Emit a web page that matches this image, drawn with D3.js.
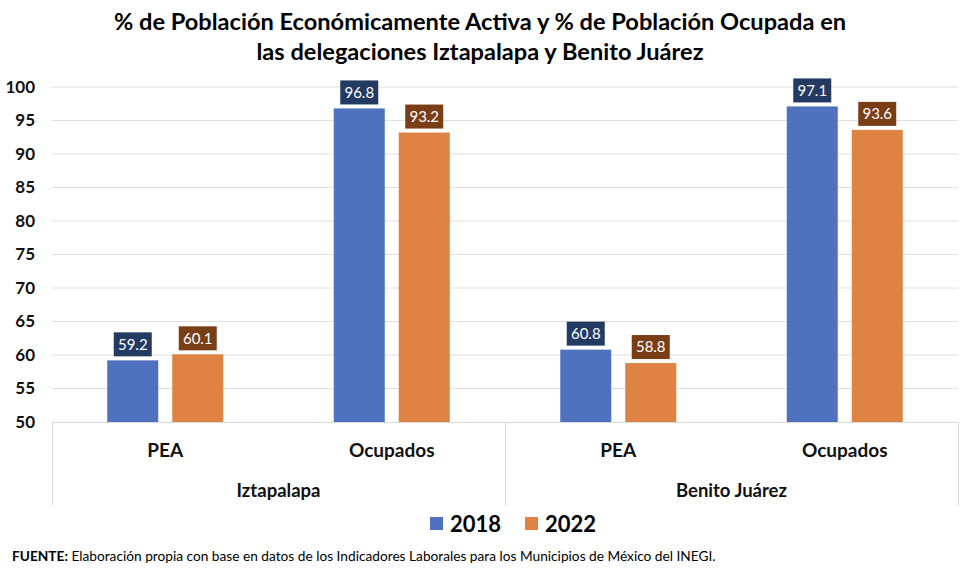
<!DOCTYPE html>
<html><head><meta charset="utf-8">
<script src="https://cdn.jsdelivr.net/npm/d3@7"></script>
<style>body{margin:0;background:#fff}svg{display:block}text{font-family:Lato,"Open Sans",sans-serif}</style>
</head><body>
<svg id="c" width="960" height="576"></svg>
<script>
const groups = ["Iztapalapa", "Benito Juárez"];
const subcats = ["PEA", "Ocupados"];
const seriesNames = ["2018", "2022"];
const values2018 = [59.2, 96.8, 60.8, 97.1];
const values2022 = [60.1, 93.2, 58.8, 93.6];
const yTicks = [50, 55, 60, 65, 70, 75, 80, 85, 90, 95, 100];
const titleLines = ["% de Población Económicamente Activa y % de Población Ocupada en", "las delegaciones Iztapalapa y Benito Juárez"];

const barColors = ["#4F71BE", "#DF8344"];
const boxColors = ["#233A63", "#7A3E17"];
const svg = d3.select("#c");
const L = 52, R = 958, T = 87, B = 422;

const cats = [];
groups.forEach(g => subcats.forEach(s => cats.push(g + "|" + s)));
const x = d3.scaleBand().domain(cats).range([L, R]).paddingInner(0).paddingOuter(0);
const x1 = d3.scaleBand().domain(seriesNames).range([0, x.bandwidth()]).paddingInner(0.215).paddingOuter(0.85);
const y = d3.scaleLinear().domain([50, 100]).range([B, T]);

// gridlines
svg.append("g").selectAll("line").data(yTicks.slice(1)).join("line")
  .attr("x1", L).attr("x2", R).attr("y1", d => y(d)).attr("y2", d => y(d))
  .attr("stroke", "#e0e0e0").attr("stroke-width", 1);

// y axis labels
const yAxis = d3.axisLeft(y).tickValues(yTicks).tickSize(0).tickPadding(0);
const ya = svg.append("g").attr("transform", `translate(${35},0)`).call(yAxis);
ya.select(".domain").remove();
ya.selectAll("text").attr("font-size", 17).attr("font-weight", "bold").attr("fill", "#111").attr("font-family", "Lato, sans-serif");

// category axis lines
const ax = svg.append("g").attr("stroke", "#d9d9d9").attr("stroke-width", 1);
ax.append("line").attr("x1", L).attr("x2", R).attr("y1", B + 0.5).attr("y2", B + 0.5);
const gBounds = [L, x(cats[2]), R];
gBounds.forEach(v => ax.append("line").attr("x1", v + 0.5).attr("x2", v + 0.5).attr("y1", B).attr("y2", 505));

// bars
const data = [];
cats.forEach((c, i) => {
  data.push({c, s: "2018", v: values2018[i], k: 0});
  data.push({c, s: "2022", v: values2022[i], k: 1});
});
svg.append("g").selectAll("rect").data(data).join("rect")
  .attr("x", d => x(d.c) + x1(d.s)).attr("width", x1.bandwidth())
  .attr("y", d => y(d.v)).attr("height", d => B - y(d.v))
  .attr("fill", d => barColors[d.k]);

// label boxes
const lb = svg.append("g").selectAll("g").data(data).join("g")
  .attr("transform", d => `translate(${x(d.c) + x1(d.s) + x1.bandwidth() / 2},${y(d.v) - 16})`);
lb.append("rect").attr("x", -19).attr("y", -12).attr("width", 38).attr("height", 24)
  .attr("fill", d => boxColors[d.k]);
lb.append("text").attr("text-anchor", "middle").attr("dy", "0.36em")
  .attr("font-size", 15).attr("fill", "#fff").text(d => d.v.toFixed(1));

// subcategory labels
svg.append("g").selectAll("text").data(cats).join("text")
  .attr("x", d => x(d) + x.bandwidth() / 2).attr("y", 450).attr("dy", "0.35em")
  .attr("text-anchor", "middle").attr("font-size", 19).attr("font-weight", "bold").attr("fill", "#111")
  .text(d => d.split("|")[1]);
// group labels
svg.append("g").selectAll("text").data(groups).join("text")
  .attr("x", (d, i) => (gBounds[i] + gBounds[i + 1]) / 2).attr("y", 491).attr("dy", "0.35em")
  .attr("text-anchor", "middle").attr("font-size", 18.5).attr("font-weight", "bold").attr("fill", "#111")
  .text(d => d);

// title
svg.append("g").selectAll("text").data(titleLines).join("text")
  .attr("x", 480).attr("y", (d, i) => 22 + i * 30).attr("dy", "0.35em")
  .attr("text-anchor", "middle").attr("font-size", 23.6).attr("font-weight", "bold").attr("fill", "#000")
  .text(d => d);

// legend
const lg = svg.append("g").selectAll("g").data(seriesNames).join("g")
  .attr("transform", (d, i) => `translate(${430 + i * 95},524)`);
lg.append("rect").attr("x", 0).attr("y", -7).attr("width", 13).attr("height", 13).attr("fill", (d, i) => barColors[i]);
lg.append("text").attr("x", 20).attr("dy", "0.36em").attr("font-size", 22).attr("font-weight", "bold").attr("fill", "#000").text(d => d);

// footnote
const fn = svg.append("text").attr("x", 12).attr("y", 556).attr("dy", "0.35em").attr("font-size", 13.7).attr("fill", "#000");
fn.append("tspan").attr("font-weight", "bold").text("FUENTE:");
fn.append("tspan").text(" Elaboración propia con base en datos de los Indicadores Laborales para los Municipios de México del INEGI.");
</script>
</body></html>
